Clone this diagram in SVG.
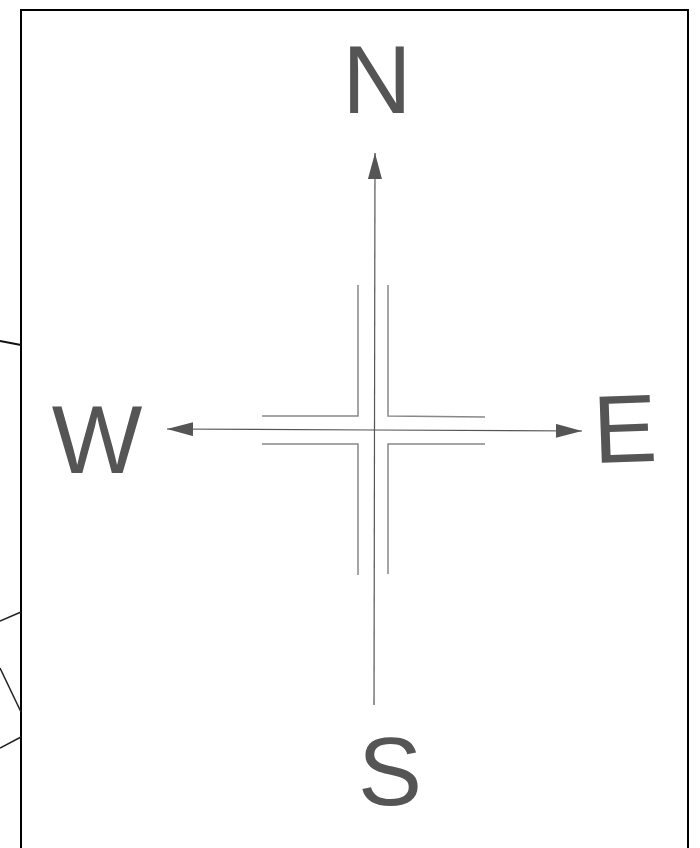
<svg xmlns="http://www.w3.org/2000/svg" width="700" height="848" viewBox="0 0 700 848">
<style>
.frame{fill:none;stroke:#000;stroke-width:2}
.ext{fill:none;stroke:#222;stroke-width:1.5}
.axis{fill:none;stroke:#555;stroke-width:1.2}
.road{fill:none;stroke:#888;stroke-width:1.5}
.lbl{font-family:"Liberation Sans",Arial,sans-serif;font-size:96px;fill:#555;text-anchor:middle}
</style>
<defs>
<marker id="ah" viewBox="0 0 26 14" refX="26" refY="7" markerWidth="26" markerHeight="14" markerUnits="userSpaceOnUse" orient="auto">
<path d="M0,0 L26,7 L0,14 Z" fill="#555"/>
</marker>
</defs>
<rect class="frame" x="21" y="10" width="667" height="860"/>
<g id="outside">
<line x1="0" y1="341" x2="21" y2="345" stroke="#111" stroke-width="2"/>
<line class="ext" x1="0" y1="621" x2="21" y2="612"/>
<line class="ext" x1="0" y1="668" x2="21" y2="712"/>
<line class="ext" x1="0" y1="748" x2="21" y2="737"/>
</g>
<g id="roads">
<polyline class="road" points="358,285 358,416 262,416"/>
<polyline class="road" points="388,285 388,416 485,417"/>
<polyline class="road" points="262,444 358,444 358,575"/>
<polyline class="road" points="485,444 388,444 388,574"/>
</g>
<g id="connectors">
<line class="axis" x1="374" y1="705" x2="375" y2="153" marker-end="url(#ah)"/>
<line class="axis" x1="375" y1="430" x2="167" y2="429" marker-end="url(#ah)"/>
<line class="axis" x1="375" y1="430" x2="582" y2="431" marker-end="url(#ah)"/>
</g>
<g id="N"><text class="lbl" x="377" y="113">N</text></g>
<g id="W"><text class="lbl" x="97" y="473">W</text></g>
<g id="E"><text class="lbl" x="625" y="462" transform="rotate(-2 625 430)">E</text></g>
<g id="S"><text class="lbl" x="390" y="805">S</text></g>
</svg>
